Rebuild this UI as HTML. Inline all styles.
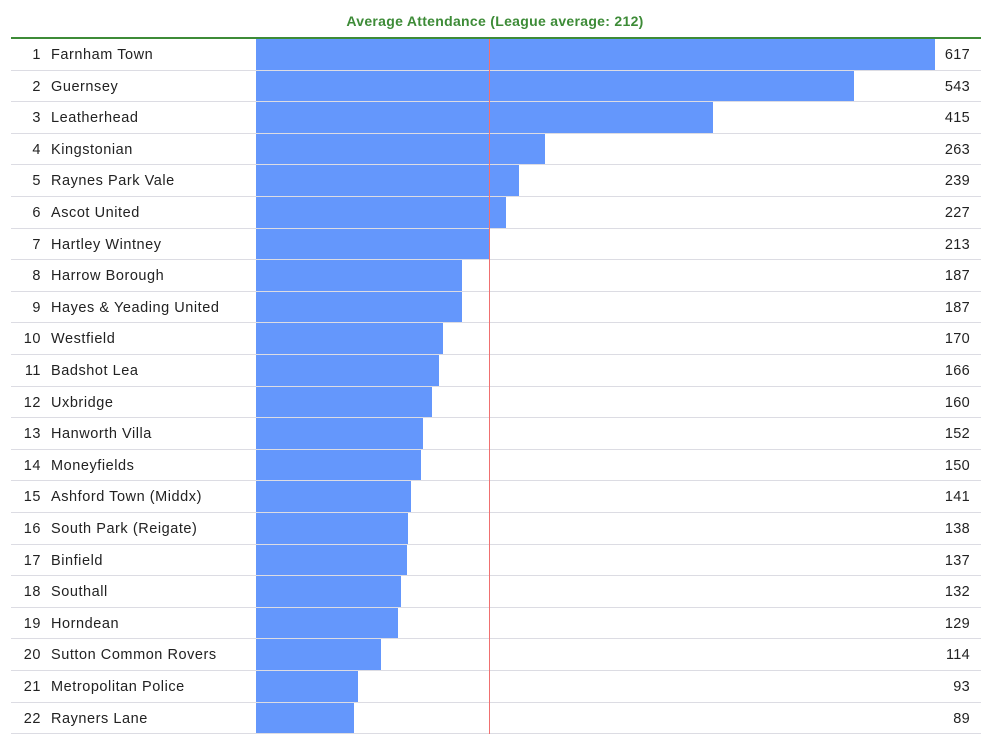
<!DOCTYPE html>
<html><head><meta charset="utf-8"><style>
body{margin:0;width:998px;height:743px;background:#fff;font-family:"Liberation Sans",sans-serif;position:relative;overflow:hidden}
.t{position:absolute;top:13px;left:0;width:990px;text-align:center;color:#3d8b37;font-weight:bold;font-size:14px;letter-spacing:0.3px}
.g{position:absolute;left:11px;width:970px;top:37px;height:2px;background:#3d8b37}
.r{position:absolute;left:11px;width:970px;height:31.6px;border-bottom:1px solid #dcdce3;box-sizing:border-box;font-size:14.5px;color:#222;letter-spacing:0.55px}
.n{position:absolute;right:940px;width:30px;text-align:right;top:8px}
.m{position:absolute;left:40px;top:8px}
.b{position:absolute;left:245px;top:0;bottom:0;background:#6497fc}
.v{position:absolute;right:11px;top:8px;letter-spacing:0.3px}
.a{position:absolute;left:489px;top:39px;height:695px;width:1px;background:#f07070}
</style></head><body>
<div class="t">Average Attendance (League average: 212)</div>
<div class="g"></div>
<div id="c"></div>
<div class="a"></div>
<script>
var d=[["Farnham Town",617],["Guernsey",543],["Leatherhead",415],["Kingstonian",263],["Raynes Park Vale",239],["Ascot United",227],["Hartley Wintney",213],["Harrow Borough",187],["Hayes &amp; Yeading United",187],["Westfield",170],["Badshot Lea",166],["Uxbridge",160],["Hanworth Villa",152],["Moneyfields",150],["Ashford Town (Middx)",141],["South Park (Reigate)",138],["Binfield",137],["Southall",132],["Horndean",129],["Sutton Common Rovers",114],["Metropolitan Police",93],["Rayners Lane",89]];
var h="";d.forEach(function(e,i){h+='<div class="r" style="top:'+(39+i*31.6)+'px"><div class="b" style="width:'+(e[1]*679/617)+'px"></div><span class="n">'+(i+1)+'</span><span class="m">'+e[0]+'</span><span class="v">'+e[1]+'</span></div>';});
document.getElementById("c").innerHTML=h;
</script>
</body></html>
